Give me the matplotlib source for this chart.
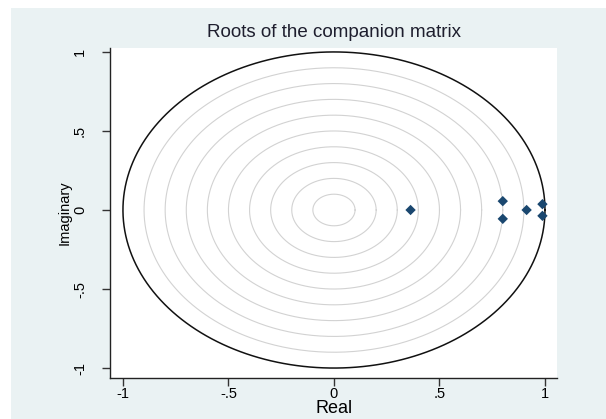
import numpy as np
import matplotlib.pyplot as plt

# eigenvalues of the companion matrix (real, imaginary)
real_part = [0.363, 0.80, 0.80, 0.913, 0.988, 0.988]
imag_part = [0.0, 0.056, -0.056, 0.0, 0.037, -0.037]

xticks = [-1, -0.5, 0, 0.5, 1]
xticklabels = ['-1', '-.5', '0', '.5', '1']
yticks = [-1, -0.5, 0, 0.5, 1]
yticklabels = ['-1', '-.5', '0', '.5', '1']
grid_radii = [0.1, 0.2, 0.3, 0.4, 0.5, 0.6, 0.7, 0.8, 0.9]

plt.rcParams['font.family'] = ['Liberation Sans', 'DejaVu Sans']

fig = plt.figure(figsize=(6.06, 4.19), dpi=100, facecolor='white')

# graph region background (Stata style light bluish gray)
bg = fig.add_axes([11/606, 0, 1 - 11/606, 1 - 8/419], zorder=-1)
bg.set_facecolor('#eaf2f3')
bg.set_xticks([])
bg.set_yticks([])
for s in bg.spines.values():
    s.set_visible(False)

ax = fig.add_axes([110.5/606, 1 - 378/419, 446.5/606, 330/419])
ax.set_facecolor('white')

t = np.linspace(0, 2*np.pi, 400)
for r in grid_radii:
    ax.plot(r*np.cos(t), r*np.sin(t), color='#d2d2d2', lw=0.8, zorder=1)
ax.plot(np.cos(t), np.sin(t), color='#111111', lw=1.1, zorder=2)

ax.scatter(real_part, imag_part, marker='D', s=28, color='#1a476f',
           edgecolors='none', zorder=3)

ax.set_xlim(-1.059, 1.057)
ax.set_ylim(-1.063, 1.025)
ax.set_xticks(xticks)
ax.set_xticklabels(xticklabels, fontsize=10.5)
ax.set_yticks(yticks)
ax.set_yticklabels(yticklabels, fontsize=10.5, rotation=90, va='center')

for s in ['top', 'right']:
    ax.spines[s].set_visible(False)
for s in ['left', 'bottom']:
    ax.spines[s].set_color('#222222')
    ax.spines[s].set_linewidth(1.0)
ax.tick_params(direction='out', length=6, width=1.0, color='#333333')
ax.tick_params(axis='x', pad=0.5)
ax.tick_params(axis='y', pad=11)

ax.set_xlabel('Real', fontsize=13, labelpad=-1)
ax.set_ylabel('Imaginary', fontsize=10.5, labelpad=1)
ax.set_title('Roots of the companion matrix', fontsize=13.5, pad=8,
             color='#1e1e2e')

fig.savefig('out.png', dpi=100, facecolor=fig.get_facecolor())
